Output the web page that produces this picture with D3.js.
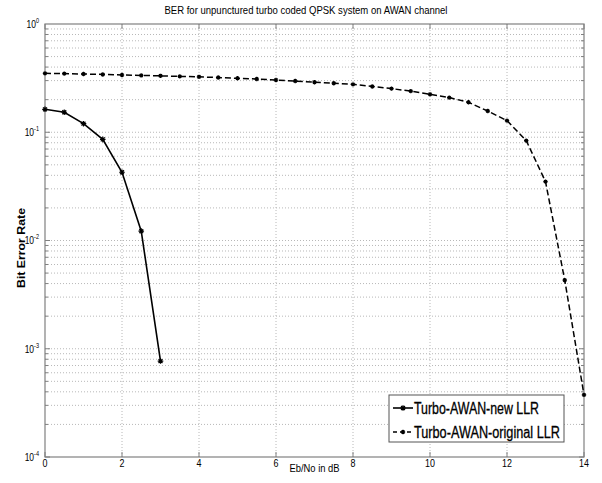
<!DOCTYPE html>
<html>
<head>
<meta charset="utf-8">
<script src="https://cdn.jsdelivr.net/npm/d3@7"></script>
<style>
  body { margin: 0; background: #fff; }
  text { font-family: "Liberation Sans", Arial, sans-serif; }
</style>
</head>
<body>
<script>
// data
var newX = [0, 0.5, 1, 1.5, 2, 2.5, 3];
var newBer = [0.163, 0.153, 0.120, 0.086, 0.0427, 0.0122, 0.00077];

var origX = [0, 0.5, 1, 1.5, 2, 2.5, 3, 3.5, 4, 4.5, 5, 5.5, 6, 6.5, 7, 7.5, 8, 8.5, 9, 9.5,
             10, 10.5, 11, 11.5, 12, 12.5, 13, 13.5, 14];
var origBer = [0.350, 0.348, 0.345, 0.342, 0.338, 0.335, 0.332, 0.328, 0.325, 0.320, 0.315, 0.310,
               0.304, 0.297, 0.290, 0.284, 0.277, 0.265, 0.253, 0.240, 0.224, 0.209, 0.189, 0.157,
               0.128, 0.0837, 0.035, 0.0043, 0.000375];

var xTicks = [0, 2, 4, 6, 8, 10, 12, 14];
var yDecades = [0, -1, -2, -3, -4];
var seriesNames = ["Turbo-AWAN-new LLR", "Turbo-AWAN-original LLR"];

var W = 602, H = 483;
var margin = {top: 24, right: 18, bottom: 26, left: 45};

var svg = d3.select("body").append("svg")
    .attr("width", W).attr("height", H);

var x = d3.scaleLinear().domain([0, 14]).range([margin.left, W - margin.right]);
var y = d3.scaleLog().domain([1e-4, 1]).range([H - margin.bottom, margin.top]);

// grid: minor log lines + decades
var gridVals = [];
for (var e = -4; e < 0; e++) {
    for (var m = 1; m < 10; m++) gridVals.push(m * Math.pow(10, e));
}
svg.append("g").selectAll("line.hg")
    .data(gridVals.filter(function(v){ return v > 1e-4; }))
    .enter().append("line")
    .attr("x1", x(0)).attr("x2", x(14))
    .attr("y1", function(d){ return y(d); }).attr("y2", function(d){ return y(d); })
    .attr("stroke", "#b8b8b8").attr("stroke-width", 1)
    .attr("stroke-dasharray", "1,2");

svg.append("g").selectAll("line.vg")
    .data(xTicks.slice(1, -1))
    .enter().append("line")
    .attr("x1", function(d){ return x(d); }).attr("x2", function(d){ return x(d); })
    .attr("y1", y(1)).attr("y2", y(1e-4))
    .attr("stroke", "#b8b8b8").attr("stroke-width", 1)
    .attr("stroke-dasharray", "1,2");

// tick marks (inside, on all sides)
var tk = svg.append("g").attr("stroke", "#808080").attr("stroke-width", 1);
xTicks.forEach(function(t){
    tk.append("line").attr("x1", x(t)).attr("x2", x(t)).attr("y1", y(1e-4)).attr("y2", y(1e-4) - 5);
    tk.append("line").attr("x1", x(t)).attr("x2", x(t)).attr("y1", y(1)).attr("y2", y(1) + 5);
});
gridVals.forEach(function(v){
    var len = (Math.log10(v) % 1 === 0) ? 5 : 3;
    tk.append("line").attr("x1", x(0)).attr("x2", x(0) + len).attr("y1", y(v)).attr("y2", y(v));
    tk.append("line").attr("x1", x(14)).attr("x2", x(14) - len).attr("y1", y(v)).attr("y2", y(v));
});

// frame
svg.append("rect")
    .attr("x", x(0)).attr("y", y(1))
    .attr("width", x(14) - x(0)).attr("height", y(1e-4) - y(1))
    .attr("fill", "none").attr("stroke", "#808080").attr("stroke-width", 1.2);

// x tick labels
svg.append("g").selectAll("text")
    .data(xTicks).enter().append("text")
    .attr("x", function(d){ return x(d); })
    .attr("y", y(1e-4) + 10.5)
    .attr("text-anchor", "middle")
    .attr("font-size", "10.5px")
    .attr("transform", function(d){ return "translate(" + x(d) + ",0) scale(0.85,1) translate(" + (-x(d)) + ",0)"; })
    .text(function(d){ return d; });

// y tick labels 10^n
yDecades.forEach(function(p){
    var t = svg.append("text")
        .attr("x", 39).attr("y", y(Math.pow(10, p)) + 4)
        .attr("text-anchor", "end")
        .attr("font-size", "10px")
        .attr("transform", "translate(39,0) scale(0.85,1) translate(-39,0)");
    t.append("tspan").text("10");
    t.append("tspan").attr("dy", -5).attr("font-size", "6.5px").text(p);
});

// title and axis labels
svg.append("text")
    .attr("x", 306).attr("y", 14)
    .attr("text-anchor", "middle").attr("font-size", "10.5px")
    .attr("textLength", 283).attr("lengthAdjust", "spacingAndGlyphs")
    .text("BER for unpunctured turbo coded QPSK system on AWAN channel");

svg.append("text")
    .attr("x", (x(0) + x(14)) / 2).attr("y", 472)
    .attr("text-anchor", "middle").attr("font-size", "10.5px")
    .attr("textLength", 50).attr("lengthAdjust", "spacingAndGlyphs")
    .text("Eb/No in dB");

svg.append("text")
    .attr("transform", "translate(25,248) rotate(-90)")
    .attr("text-anchor", "middle").attr("font-size", "10px").attr("font-weight", "bold")
    .attr("textLength", 80).attr("lengthAdjust", "spacingAndGlyphs")
    .text("Bit Error Rate");

// lines
var line = d3.line()
    .x(function(d){ return x(d[0]); })
    .y(function(d){ return y(d[1]); });

var newData = newX.map(function(v, i){ return [v, newBer[i]]; });
var origData = origX.map(function(v, i){ return [v, origBer[i]]; });

svg.append("path").datum(origData)
    .attr("d", line).attr("fill", "none")
    .attr("stroke", "#000").attr("stroke-width", 1.5)
    .attr("stroke-dasharray", "6,3");

svg.append("path").datum(newData)
    .attr("d", line).attr("fill", "none")
    .attr("stroke", "#000").attr("stroke-width", 1.6);

// asterisk markers
function star(g, cx, cy, r) {
    var p = "M" + (cx - r) + "," + cy + "L" + (cx + r) + "," + cy +
            "M" + cx + "," + (cy - r) + "L" + cx + "," + (cy + r) +
            "M" + (cx - r * 0.7) + "," + (cy - r * 0.7) + "L" + (cx + r * 0.7) + "," + (cy + r * 0.7) +
            "M" + (cx - r * 0.7) + "," + (cy + r * 0.7) + "L" + (cx + r * 0.7) + "," + (cy - r * 0.7);
    g.append("path").attr("d", p).attr("stroke", "#000").attr("stroke-width", 1.2).attr("fill", "none");
}
var mk = svg.append("g");
origData.forEach(function(d){ star(mk, x(d[0]), y(d[1]), 2.2); });
newData.forEach(function(d){ star(mk, x(d[0]), y(d[1]), 2.8); });

// legend
var lg = svg.append("g");
lg.append("rect")
    .attr("x", 389).attr("y", 395).attr("width", 175).attr("height", 47)
    .attr("fill", "#fff").attr("stroke", "#555").attr("stroke-width", 1);

var legY = [408, 432];
var legLen = [125, 146];
lg.append("line").attr("x1", 393).attr("x2", 413).attr("y1", legY[0]).attr("y2", legY[0])
    .attr("stroke", "#000").attr("stroke-width", 1.6);
star(lg, 403, legY[0], 2.8);
lg.append("line").attr("x1", 393).attr("x2", 413).attr("y1", legY[1]).attr("y2", legY[1])
    .attr("stroke", "#000").attr("stroke-width", 1.5).attr("stroke-dasharray", "4,3");
star(lg, 403, legY[1], 2.2);

seriesNames.forEach(function(s, i){
    lg.append("text")
        .attr("x", 414).attr("y", legY[i] + 6)
        .attr("font-size", "16px")
        .attr("stroke", "#000").attr("stroke-width", 0.3)
        .attr("textLength", legLen[i]).attr("lengthAdjust", "spacingAndGlyphs")
        .text(s);
});
</script>
</body>
</html>
